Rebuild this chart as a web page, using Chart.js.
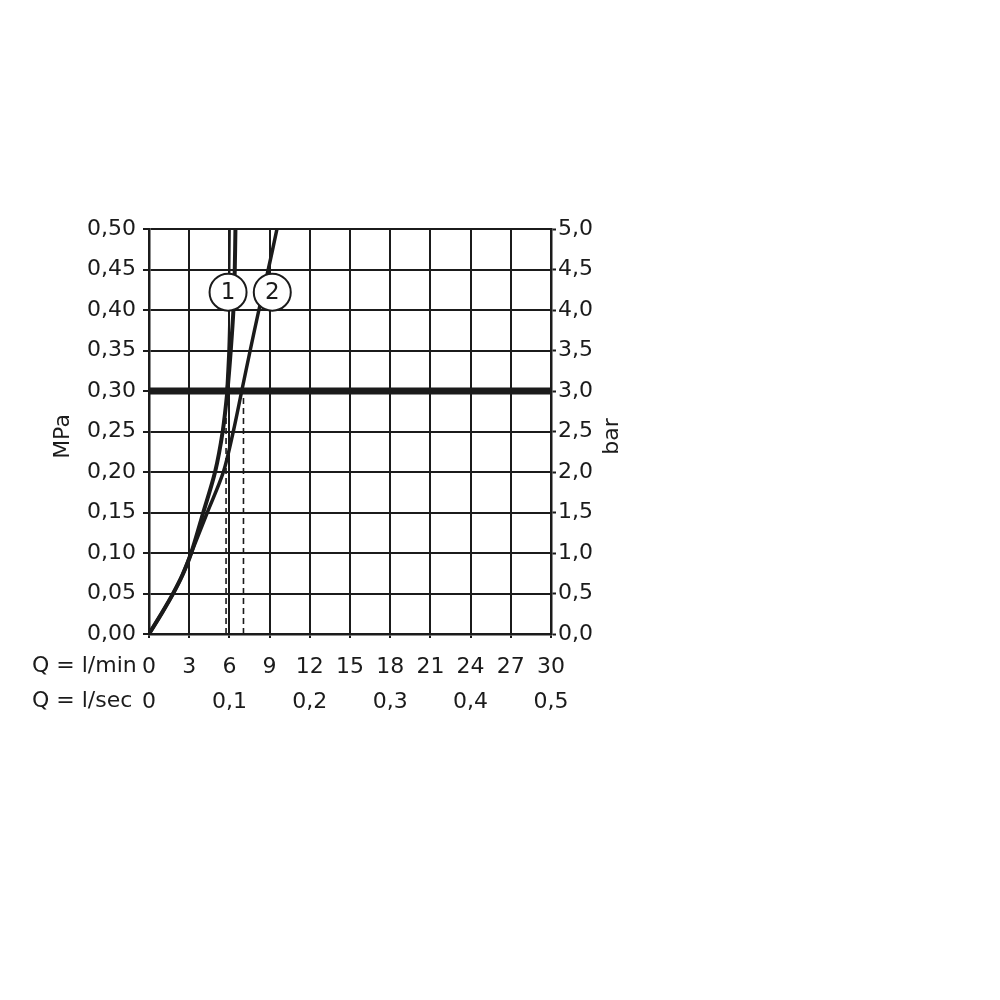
<!DOCTYPE html>
<html>
<head>
<meta charset="utf-8">
<script src="https://cdn.jsdelivr.net/npm/chart.js@4/dist/chart.umd.min.js"></script>
<style>
  html, body { margin: 0; padding: 0; background: #ffffff; }
  #wrap { width: 1000px; height: 1000px; }
</style>
</head>
<body>
<div id="wrap"><canvas id="c" width="1000" height="1000"></canvas></div>
<script>
// ---- data ----
const flowLminTicks = ['0','3','6','9','12','15','18','21','24','27','30'];
const flowLsecTicks = ['0','','0,1','','0,2','','0,3','','0,4','','0,5'];
const mpaTicks = ['0,00','0,05','0,10','0,15','0,20','0,25','0,30','0,35','0,40','0,45','0,50'];
const barTicks = ['0,0','0,5','1,0','1,5','2,0','2,5','3,0','3,5','4,0','4,5','5,0'];

const curve1Flow     = [0, 1, 1.8, 2.5, 3.15, 4.05, 4.93, 5.5, 5.85, 6.1, 6.3, 6.4, 6.45];
const curve1Pressure = [0, 0.027, 0.05, 0.073, 0.10, 0.15, 0.20, 0.25, 0.30, 0.35, 0.40, 0.45, 0.50];

const curve1bFlow     = [5.75, 5.9, 5.98, 6.02, 6.05];
const curve1bPressure = [0.30, 0.35, 0.40, 0.45, 0.50];

const curve2Flow     = [0, 1, 1.8, 2.5, 3.15, 4.35, 5.55, 6.29, 6.92, 7.55, 8.2, 8.9, 9.55];
const curve2Pressure = [0, 0.027, 0.05, 0.073, 0.10, 0.15, 0.20, 0.25, 0.30, 0.35, 0.40, 0.45, 0.50];

const refPressure = 0.30;
const refFlow = [0, 30];
const dropFlow = [5.75, 7.05];

const curveLabels = ['1', '2'];
const labelFlow = [5.9, 9.2];
const labelPressure = [0.422, 0.422];

// ---- helpers ----
const ink = '#1b1b1b';
const FONT = '"DejaVu Sans", sans-serif';
const pts = (xs, ys) => xs.map((x, i) => ({ x: x, y: ys[i] }));

const datasets = [
  { // circle labels
    data: pts(labelFlow, labelPressure),
    showLine: false, pointRadius: 18.5, pointHoverRadius: 18.5,
    pointBackgroundColor: '#ffffff', pointBorderColor: ink, pointBorderWidth: 2,
    order: 0
  },
  {
    data: pts(curve1Flow, curve1Pressure), showLine: true, borderColor: ink,
    borderWidth: 4, pointRadius: 0, tension: 0.3, order: 2
  },
  {
    data: pts(curve1bFlow, curve1bPressure), showLine: true, borderColor: ink,
    borderWidth: 1.6, pointRadius: 0, tension: 0.3, order: 3
  },
  {
    data: pts(curve2Flow, curve2Pressure), showLine: true, borderColor: ink,
    borderWidth: 3.5, pointRadius: 0, tension: 0.3, order: 2
  },
  {
    data: pts(refFlow, [refPressure, refPressure]), showLine: true, borderColor: ink,
    borderWidth: 7, pointRadius: 0, order: 1
  },
  {
    data: pts([dropFlow[0], dropFlow[0]], [0, refPressure]), showLine: true, borderColor: ink,
    borderWidth: 1.6, borderDash: [6, 4], pointRadius: 0, order: 4
  },
  {
    data: pts([dropFlow[1], dropFlow[1]], [0, refPressure]), showLine: true, borderColor: ink,
    borderWidth: 1.6, borderDash: [6, 4], pointRadius: 0, order: 4
  }
];

const textPlugin = {
  id: 'extraText',
  afterDatasetsDraw(chart) {
    const ctx = chart.ctx;
    const meta = chart.getDatasetMeta(0);
    ctx.save();
    ctx.fillStyle = ink;
    ctx.font = '23px ' + FONT;
    ctx.textAlign = 'center';
    ctx.textBaseline = 'middle';
    meta.data.forEach((el, i) => ctx.fillText(curveLabels[i], el.x, el.y + 1));
    ctx.restore();
  },
  afterDraw(chart) {
    const ctx = chart.ctx;
    const area = chart.chartArea;
    ctx.save();
    ctx.fillStyle = ink;
    ctx.font = '22px ' + FONT;
    ctx.textBaseline = 'middle';
    ctx.textAlign = 'left';
    ctx.fillText('Q = l/min', 32, 666);
    ctx.fillText('Q = l/sec', 32, 701);
    const midY = (area.top + area.bottom) / 2 + 5;
    ctx.textAlign = 'center';
    ctx.translate(63, midY);
    ctx.rotate(-Math.PI / 2);
    ctx.fillText('MPa', 0, 0);
    ctx.restore();
    ctx.save();
    ctx.fillStyle = ink;
    ctx.font = '22px ' + FONT;
    ctx.textBaseline = 'middle';
    ctx.textAlign = 'center';
    ctx.translate(612, midY);
    ctx.rotate(-Math.PI / 2);
    ctx.fillText('bar', 0, 0);
    ctx.restore();
  }
};

new Chart(document.getElementById('c'), {
  type: 'scatter',
  data: { datasets: datasets },
  options: {
    responsive: false,
    animation: false,
    devicePixelRatio: 1,
    layout: { padding: { top: 229, left: 0, right: 0, bottom: 0 } },
    plugins: { legend: { display: false }, tooltip: { enabled: false } },
    events: [],
    scales: {
      x: {
        type: 'linear', position: 'bottom', min: 0, max: 30,
        afterFit: s => { s.height = 366; },
        afterBuildTicks: s => { s.ticks = flowLminTicks.map((t, i) => ({ value: i * 3 })); },
        ticks: {
          color: ink, padding: 12, maxRotation: 0, autoSkip: false,
          font: { family: FONT, size: 22, lineHeight: '35px' },
          callback: (v, i) => [flowLminTicks[i], flowLsecTicks[i]]
        },
        grid: { color: ink, lineWidth: 2, drawTicks: true, tickLength: 4, tickColor: ink, tickWidth: 2 },
        border: { color: ink, width: 2.5 }
      },
      y: {
        type: 'linear', position: 'left', min: 0, max: 0.5,
        afterFit: s => { s.width = 149; },
        afterBuildTicks: s => { s.ticks = mpaTicks.map((t, i) => ({ value: i * 0.05 })); },
        ticks: {
          color: ink, padding: 7, autoSkip: false,
          font: { family: FONT, size: 22 },
          callback: (v, i) => mpaTicks[i]
        },
        grid: { color: ink, lineWidth: 2, drawTicks: true, tickLength: 6, tickColor: ink, tickWidth: 2 },
        border: { color: ink, width: 2.5 }
      },
      y2: {
        type: 'linear', position: 'right', min: 0, max: 5,
        afterFit: s => { s.width = 449; },
        afterBuildTicks: s => { s.ticks = barTicks.map((t, i) => ({ value: i * 0.5 })); },
        ticks: {
          color: ink, padding: 2, autoSkip: false,
          font: { family: FONT, size: 22 },
          callback: (v, i) => barTicks[i]
        },
        grid: { drawOnChartArea: false, drawTicks: true, tickLength: 5, tickColor: ink, tickWidth: 2 },
        border: { color: ink, width: 2.5 }
      }
    }
  },
  plugins: [textPlugin]
});
</script>
</body>
</html>
